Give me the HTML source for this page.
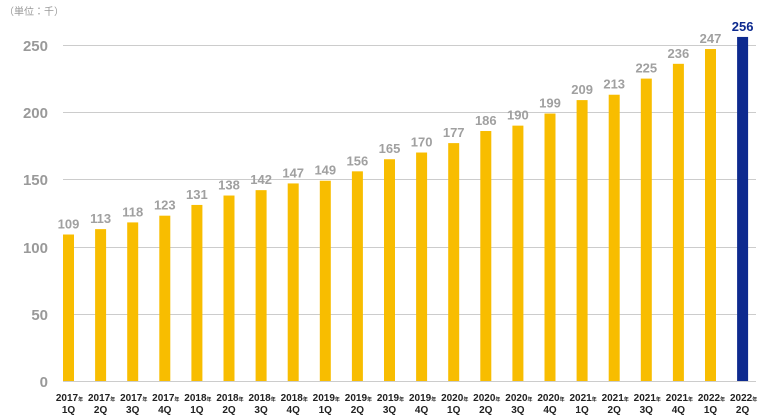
<!DOCTYPE html>
<html><head><meta charset="utf-8"><style>
body{margin:0;background:#fff;}
svg{display:block;font-family:"Liberation Sans","Noto Sans CJK JP",sans-serif;}
</style></head><body>
<svg width="769" height="419" viewBox="0 0 769 419">
<text x="4" y="15" font-size="10" fill="#999">（単位：千）</text>
<g stroke="#ccc" stroke-width="1">
<line x1="63" x2="756" y1="45.5" y2="45.5"/>
<line x1="63" x2="756" y1="112.5" y2="112.5"/>
<line x1="63" x2="756" y1="179.5" y2="179.5"/>
<line x1="63" x2="756" y1="247.5" y2="247.5"/>
<line x1="63" x2="756" y1="314.5" y2="314.5"/>
<line x1="63" x2="756" y1="381.5" y2="381.5"/>
</g>
<g font-size="15" font-weight="bold" fill="#999" text-anchor="end">
<text x="48" y="51">250</text><text x="48" y="118">200</text><text x="48" y="185">150</text>
<text x="48" y="253">100</text><text x="48" y="320">50</text><text x="48" y="387">0</text>
</g>
<g id="bars"></g>
</svg>
<script>
var v=[109,113,118,123,131,138,142,147,149,156,165,170,177,186,190,199,209,213,225,236,247,256];
var g=document.getElementById('bars'),s='';
for(var i=0;i<v.length;i++){
 var cx=68.5+32.1*i,h=v[i]*1.344,y=381-h,last=i==21;
 s+='<rect x="'+(cx-5.5)+'" y="'+y+'" width="11" height="'+h+'" fill="'+(last?'#0d2a8f':'#f8bd00')+'"/>';
 s+='<text x="'+cx+'" y="'+(y-6)+'" font-size="13" font-weight="bold" text-anchor="middle" fill="'+(last?'#0d2a8f':'#a0a0a0')+'">'+v[i]+'</text>';
 var yr=2017+Math.floor((i+0)/4),q=i%4+1;
 s+='<text x="'+(cx+1)+'" y="401" font-size="10" font-weight="bold" text-anchor="middle" fill="#222">'+yr+'<tspan font-size="5">年</tspan></text>';
 s+='<text x="'+cx+'" y="413" font-size="10" font-weight="bold" text-anchor="middle" fill="#222">'+q+'Q</text>';
}
g.innerHTML=s;
</script>
</body></html>
